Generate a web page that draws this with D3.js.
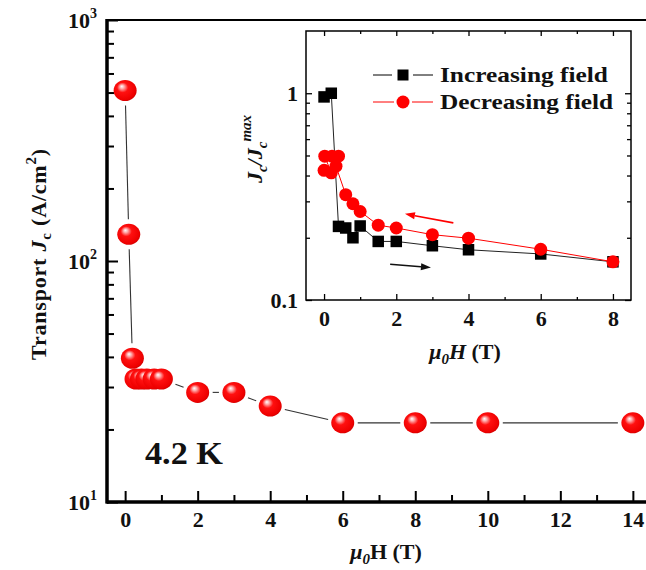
<!DOCTYPE html>
<html>
<head>
<meta charset="utf-8">
<script src="https://cdn.jsdelivr.net/npm/d3@7/dist/d3.min.js"></script>
<style>
  html, body { margin: 0; padding: 0; background: #fff; }
  svg { display: block; }
  text { font-family: "Liberation Serif", "Times New Roman", serif; font-weight: bold; fill: #111; }
</style>
</head>
<body>
<svg id="chart" width="646" height="570"></svg>
<script>
// ---------- data ----------
const mainField = [0, 0.1, 0.2, 0.3, 0.45, 0.6, 0.8, 1.0, 2, 3, 4, 6, 8, 10, 14];
const mainJc    = [510, 129, 39.5, 32.4, 32.4, 32.4, 32.4, 32.4, 28.5, 28.5, 25.0, 21.3, 21.3, 21.3, 21.3];

const incField = [0, 0.2, 0.4, 0.6, 0.8, 1.0, 1.5, 2, 3, 4, 6, 8];
const incJc    = [0.96, 1.0, 0.227, 0.223, 0.200, 0.228, 0.192, 0.192, 0.183, 0.175, 0.167, 0.153];

const decField = [8, 6, 4, 3, 2, 1.5, 1.0, 0.8, 0.6, 0.33, 0.4, 0.22, 0.02, 0.2, 0];
const decJc    = [0.153, 0.176, 0.199, 0.207, 0.223, 0.230, 0.268, 0.292, 0.323, 0.444, 0.496, 0.496, 0.496, 0.412, 0.424];

const mainXTicks = [0, 2, 4, 6, 8, 10, 12, 14];
const mainXMinor = [1, 3, 5, 7, 9, 11, 13];
const mainYTicks = [10, 100, 1000];
const mainYExp   = ["1", "2", "3"];
const mainYMinor = [20, 30, 40, 50, 60, 70, 80, 90, 200, 300, 400, 500, 600, 700, 800, 900];

const insetXTicks = [0, 2, 4, 6, 8];
const insetXMinor = [1, 3, 5, 7];
const insetYTicks = [0.1, 1];
const insetYLabels = ["0.1", "1"];
const insetYMinor = [0.2, 0.3, 0.4, 0.5, 0.6, 0.7, 0.8, 0.9];

const legendLabels = ["Increasing field", "Decreasing field"];
const tempLabel = "4.2 K";
// arrows: [x1, y1, x2, y2] in inset data units
const arrowRed   = [3.58, 0.236, 2.24, 0.261];
const arrowBlack = [1.83, 0.149, 2.96, 0.1435];

// ---------- setup ----------
const svg = d3.select("#chart");
const defs = svg.append("defs");
const grad = defs.append("radialGradient").attr("id", "sphere")
  .attr("cx", "45%").attr("cy", "45%").attr("r", "60%")
  .attr("fx", "35%").attr("fy", "30%");
grad.append("stop").attr("offset", "0%").attr("stop-color", "#ffffff");
grad.append("stop").attr("offset", "15%").attr("stop-color", "#ffb0b0");
grad.append("stop").attr("offset", "40%").attr("stop-color", "#ff1010");
grad.append("stop").attr("offset", "85%").attr("stop-color", "#ee0000");
grad.append("stop").attr("offset", "100%").attr("stop-color", "#c80000");

const FONT = "'Liberation Serif', 'Times New Roman', serif";

// ---------- main plot ----------
const M = { left: 107, right: 651, top: 20, bottom: 502 };
const x = d3.scaleLinear().domain([-0.5, 14.5]).range([M.left, M.right]);
const y = d3.scaleLog().domain([10, 1000]).range([M.bottom, M.top]);

svg.append("line").attr("x1", M.left).attr("x2", M.right).attr("y1", M.top).attr("y2", M.top)
  .attr("stroke", "#000").attr("stroke-width", 2);

const gx = svg.append("g").attr("transform", `translate(0,${M.bottom})`)
  .call(d3.axisBottom(x).tickValues(mainXTicks).tickSize(-11).tickPadding(10).tickFormat(d3.format("d")));
const gxm = svg.append("g").attr("transform", `translate(0,${M.bottom})`)
  .call(d3.axisBottom(x).tickValues(mainXMinor).tickSize(-7).tickFormat(""));
const gy = svg.append("g").attr("transform", `translate(${M.left},0)`)
  .call(d3.axisLeft(y).tickValues(mainYTicks).tickSize(-11).tickPadding(10).tickFormat(""));
const gym = svg.append("g").attr("transform", `translate(${M.left},0)`)
  .call(d3.axisLeft(y).tickValues(mainYMinor).tickSize(-7).tickFormat(""));

[gx, gxm, gy, gym].forEach(g => {
  g.select(".domain").attr("stroke", "#000").attr("stroke-width", 3);
  g.selectAll(".tick line").attr("stroke", "#000").attr("stroke-width", 2);
});
gx.select(".domain").attr("d", `M${M.left},0H${M.right}`);
gxm.select(".domain").attr("d", `M${M.left},0H${M.right}`);
gy.select(".domain").attr("d", `M0,${M.bottom + 1.5}V${M.top - 1}`);
gym.select(".domain").attr("d", `M0,${M.bottom + 1.5}V${M.top - 1}`);
gx.selectAll(".tick text").attr("font-size", 22).attr("fill", "#111").attr("dy", "0.68em")
  .style("font-family", FONT).style("font-weight", "bold");

gy.selectAll(".tick").each(function(d, i) {
  const t = d3.select(this).select("text")
    .attr("font-size", 22).attr("x", -10).attr("dy", "0.34em").attr("text-anchor", "end")
    .style("font-family", FONT).style("font-weight", "bold").attr("fill", "#111");
  t.text(null);
  t.append("tspan").text("10");
  t.append("tspan").attr("dy", -10).attr("font-size", 14).text(mainYExp[i]);
});

// connecting line with gaps around spheres
const mainPts = mainField.map((f, i) => [x(f), y(mainJc[i])]);
const gap = 15;
const segG = svg.append("g");
for (let i = 0; i < mainPts.length - 1; i++) {
  const [x1, y1] = mainPts[i], [x2, y2] = mainPts[i + 1];
  const dx = x2 - x1, dy = y2 - y1, L = Math.hypot(dx, dy);
  if (L <= 2 * gap + 2) continue;
  const ux = dx / L, uy = dy / L;
  segG.append("line")
    .attr("x1", x1 + ux * gap).attr("y1", y1 + uy * gap)
    .attr("x2", x2 - ux * gap).attr("y2", y2 - uy * gap)
    .attr("stroke", "#333").attr("stroke-width", 1.1);
}

svg.append("g").selectAll("ellipse").data(mainField).join("ellipse")
  .attr("cx", (d) => x(d)).attr("cy", (d, i) => y(mainJc[i]))
  .attr("rx", 11.5).attr("ry", 10.5)
  .attr("fill", "url(#sphere)");

svg.append("text").attr("x", 145).attr("y", 464).attr("font-size", 32)
  .attr("textLength", 78).attr("lengthAdjust", "spacingAndGlyphs").text(tempLabel);

// main axis titles
const xt = svg.append("text").attr("x", 386).attr("y", 559).attr("text-anchor", "middle").attr("font-size", 22);
xt.append("tspan").attr("font-style", "italic").text("μ");
xt.append("tspan").attr("font-style", "italic").attr("font-size", 15).attr("dy", 5).text("0");
xt.append("tspan").attr("dy", -5).text("H (T)");

const yt = svg.append("text").attr("transform", "translate(46,254) rotate(-90)")
  .attr("text-anchor", "middle").attr("font-size", 22).attr("letter-spacing", 0.8);
yt.append("tspan").text("Transport ");
yt.append("tspan").attr("font-style", "italic").text("J");
yt.append("tspan").attr("font-size", 15).attr("dy", 5).text("c");
yt.append("tspan").attr("dy", -5).text(" (A/cm");
yt.append("tspan").attr("font-size", 15).attr("dy", -10).text("2");
yt.append("tspan").attr("dy", 10).text(")");

// ---------- inset ----------
const I = { left: 306, right: 631, top: 31, bottom: 300 };
const ix = d3.scaleLinear().domain([-0.5, 8.5]).range([I.left, I.right]);
const iy = d3.scaleLog().domain([0.1, 2]).range([I.bottom, I.top]);

svg.append("rect").attr("x", I.left).attr("y", I.top)
  .attr("width", I.right - I.left).attr("height", I.bottom - I.top)
  .attr("fill", "#fff").attr("stroke", "#000").attr("stroke-width", 1.5);

const axes = [
  svg.append("g").attr("transform", `translate(0,${I.bottom})`)
    .call(d3.axisBottom(ix).tickValues(insetXTicks).tickSize(-6).tickPadding(10).tickFormat(d3.format("d"))),
  svg.append("g").attr("transform", `translate(0,${I.bottom})`)
    .call(d3.axisBottom(ix).tickValues(insetXMinor).tickSize(-3).tickFormat("")),
  svg.append("g").attr("transform", `translate(0,${I.top})`)
    .call(d3.axisTop(ix).tickValues(insetXTicks).tickSize(-5).tickFormat("")),
  svg.append("g").attr("transform", `translate(0,${I.top})`)
    .call(d3.axisTop(ix).tickValues(insetXMinor).tickSize(-3).tickFormat("")),
  svg.append("g").attr("transform", `translate(${I.left},0)`)
    .call(d3.axisLeft(iy).tickValues(insetYTicks).tickSize(-6).tickPadding(8).tickFormat((d, i) => insetYLabels[i])),
  svg.append("g").attr("transform", `translate(${I.left},0)`)
    .call(d3.axisLeft(iy).tickValues(insetYMinor).tickSize(-4).tickFormat("")),
  svg.append("g").attr("transform", `translate(${I.right},0)`)
    .call(d3.axisRight(iy).tickValues(insetYTicks).tickSize(-6).tickFormat("")),
  svg.append("g").attr("transform", `translate(${I.right},0)`)
    .call(d3.axisRight(iy).tickValues(insetYMinor).tickSize(-4).tickFormat(""))
];
axes.forEach(g => {
  g.select(".domain").remove();
  g.selectAll(".tick line").attr("stroke", "#000").attr("stroke-width", 1.3);
  g.selectAll(".tick text").attr("font-size", 22).attr("fill", "#111")
    .style("font-family", FONT).style("font-weight", "bold");
});

const lineGen = d3.line().x(d => ix(d[0])).y(d => iy(d[1]));
const incPts = incField.map((f, i) => [f, incJc[i]]);
const decPts = decField.map((f, i) => [f, decJc[i]]);

svg.append("path").attr("d", lineGen(incPts)).attr("fill", "none").attr("stroke", "#222").attr("stroke-width", 1);
svg.append("path").attr("d", lineGen(decPts)).attr("fill", "none").attr("stroke", "#ff0000").attr("stroke-width", 1);

const sq = 11.5;
svg.append("g").selectAll("rect").data(incPts).join("rect")
  .attr("x", d => ix(d[0]) - sq / 2).attr("y", d => iy(d[1]) - sq / 2)
  .attr("width", sq).attr("height", sq).attr("fill", "#000");
svg.append("g").selectAll("circle").data(decPts).join("circle")
  .attr("cx", d => ix(d[0])).attr("cy", d => iy(d[1])).attr("r", 6.5).attr("fill", "#ff0000");

function arrow(a, color) {
  const x1 = ix(a[0]), y1 = iy(a[1]), x2 = ix(a[2]), y2 = iy(a[3]);
  const ang = Math.atan2(y2 - y1, x2 - x1);
  const hl = 10, hw = 3.5;
  const bx = x2 - Math.cos(ang) * hl, by = y2 - Math.sin(ang) * hl;
  svg.append("line").attr("x1", x1).attr("y1", y1).attr("x2", bx).attr("y2", by)
    .attr("stroke", color).attr("stroke-width", 1.6);
  const px = -Math.sin(ang) * hw, py = Math.cos(ang) * hw;
  svg.append("path")
    .attr("d", `M${x2},${y2}L${bx + px},${by + py}L${bx - px},${by - py}Z`)
    .attr("fill", color);
}
arrow(arrowRed, "#ff0000");
arrow(arrowBlack, "#111");

// legend
const lg = svg.append("g");
lg.append("line").attr("x1", 373).attr("x2", 392).attr("y1", 75).attr("y2", 75).attr("stroke", "#000").attr("stroke-width", 1);
lg.append("line").attr("x1", 413).attr("x2", 433).attr("y1", 75).attr("y2", 75).attr("stroke", "#000").attr("stroke-width", 1);
lg.append("rect").attr("x", 397.5).attr("y", 69.5).attr("width", 11).attr("height", 11).attr("fill", "#000");
lg.append("text").attr("x", 440).attr("y", 82).attr("font-size", 21)
  .attr("textLength", 168).attr("lengthAdjust", "spacingAndGlyphs").text(legendLabels[0]);
lg.append("line").attr("x1", 373).attr("x2", 394).attr("y1", 102).attr("y2", 102).attr("stroke", "#ff0000").attr("stroke-width", 1);
lg.append("line").attr("x1", 412).attr("x2", 433).attr("y1", 102).attr("y2", 102).attr("stroke", "#ff0000").attr("stroke-width", 1);
lg.append("circle").attr("cx", 403).attr("cy", 102).attr("r", 6.5).attr("fill", "#ff0000");
lg.append("text").attr("x", 440).attr("y", 109).attr("font-size", 21)
  .attr("textLength", 173).attr("lengthAdjust", "spacingAndGlyphs").text(legendLabels[1]);

// inset titles
const ixt = svg.append("text").attr("x", 465).attr("y", 359).attr("text-anchor", "middle").attr("font-size", 22);
ixt.append("tspan").attr("font-style", "italic").text("μ");
ixt.append("tspan").attr("font-style", "italic").attr("font-size", 15).attr("dy", 5).text("0");
ixt.append("tspan").attr("font-style", "italic").attr("dy", -5).text("H");
ixt.append("tspan").text(" (T)");

const iyt = svg.append("text").attr("transform", "translate(262,149) rotate(-90)")
  .attr("text-anchor", "middle").attr("font-size", 22).attr("font-style", "italic");
iyt.append("tspan").text("J");
iyt.append("tspan").attr("font-size", 15).attr("dy", 5).text("c");
iyt.append("tspan").attr("dy", -5).text("/J");
iyt.append("tspan").attr("font-size", 15).attr("dy", 5).text("c");
iyt.append("tspan").attr("font-size", 15).attr("dy", -16).text("max");
</script>
</body>
</html>
